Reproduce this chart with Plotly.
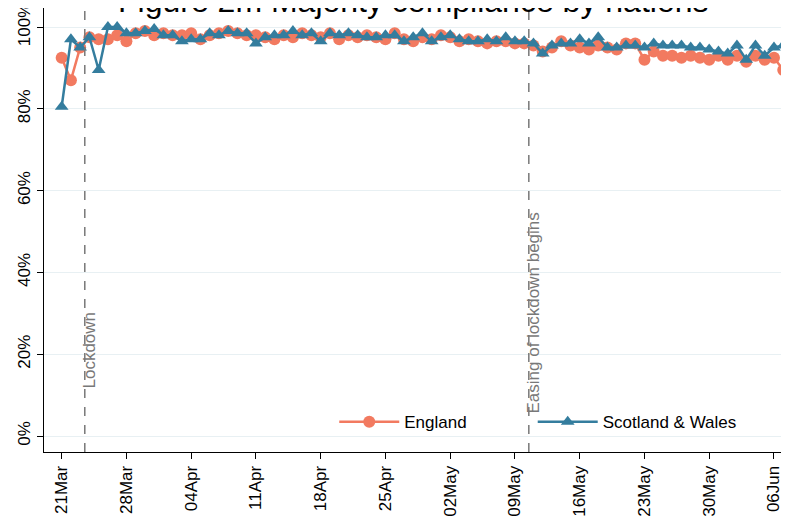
import pandas as pd
import plotly.graph_objects as go

# daily survey dates
dates = pd.date_range("2020-03-21", "2020-06-07", freq="D")

# share complying with the majority of rules (%)
england = [92.5, 87.0, 95.0, 97.5, 97.0, 97.0, 98.0, 96.5, 98.5, 99.0, 98.0,
           98.5, 98.0, 98.0, 98.5, 97.0, 98.0, 98.5, 99.0, 98.5, 98.0,
           98.0, 97.5, 97.0, 98.0, 97.5, 98.5, 98.0, 97.5, 98.5, 97.0,
           98.0, 97.5, 98.0, 97.5, 97.0, 98.5, 97.0, 96.5, 97.5, 97.0,
           98.0, 97.5, 96.5, 97.0, 96.5, 96.0, 96.5, 96.5, 96.0, 96.0,
           95.5, 94.0, 95.0, 96.5, 95.5, 95.0, 94.5, 95.5, 95.0, 94.5,
           96.0, 96.0, 92.0, 94.0, 93.0, 93.0, 92.5, 93.0, 92.5, 92.0,
           93.0, 92.0, 93.0, 91.5, 93.0, 92.0, 92.5, 89.5]
scot_wales = [80.5, 97.0, 95.0, 97.5, 89.5, 100.0, 100.0, 98.5, 98.5, 99.0, 99.5,
              98.0, 98.0, 96.5, 97.0, 97.0, 98.5, 98.0, 99.0, 98.5, 98.5,
              96.0, 97.5, 98.0, 98.0, 99.0, 98.0, 98.5, 96.5, 98.5, 98.0,
              98.5, 98.0, 97.5, 97.5, 98.0, 98.0, 96.5, 97.5, 98.5, 96.5,
              97.5, 98.0, 97.0, 96.5, 96.5, 97.0, 96.5, 97.5, 96.5, 96.5,
              96.0, 93.5, 95.5, 96.0, 96.0, 97.0, 96.0, 97.5, 95.0, 95.0,
              95.5, 95.5, 95.0, 96.0, 95.5, 95.5, 95.5, 95.0, 95.0, 94.5,
              94.0, 93.5, 95.5, 92.0, 95.5, 93.0, 95.0, 95.5]

events = ["2020-03-23 12:00", "2020-05-10 12:00"]
event_labels = ["Lockdown", "Easing of lockdown begins"]
event_label_y = [11.2, 5.1]

tick_dates = pd.date_range("2020-03-21", "2020-06-06", freq="7D")
tick_text = [d.strftime("%d%b") for d in tick_dates]
y_ticks = [0, 20, 40, 60, 80, 100]

col_eng = "rgb(242,122,96)"
col_sw = "rgb(52,125,158)"
font = "Liberation Sans, Arial, sans-serif"

fig = go.Figure()
fig.add_trace(go.Scatter(x=dates, y=england, name="England", mode="lines+markers",
                         line=dict(color=col_eng, width=2.5),
                         marker=dict(symbol="circle", size=12, color=col_eng),
                         legend="legend"))
fig.add_trace(go.Scatter(x=dates, y=scot_wales, name="Scotland & Wales", mode="lines+markers",
                         line=dict(color=col_sw, width=2.5),
                         marker=dict(symbol="triangle-up", size=12, color=col_sw),
                         legend="legend2"))

for d, lab, ly in zip(events, event_labels, event_label_y):
    fig.add_shape(type="line", x0=d, x1=d, y0=0, y1=1, xref="x", yref="paper",
                  line=dict(color="rgb(120,120,120)", width=1.5, dash="dash"))
    fig.add_annotation(x=d, y=ly, xref="x", yref="y", text=lab, textangle=-90,
                       showarrow=False, xshift=5, yanchor="bottom",
                       font=dict(family=font, size=17, color="rgb(120,120,120)"))

fig.add_annotation(x=0.495, y=1, xref="paper", yref="paper", yanchor="bottom",
                   yshift=-13, showarrow=False,
                   text="Figure 2m Majority compliance by nations",
                   font=dict(family=font, size=32, color="black"))

leg = dict(orientation="h", y=0.0265, xanchor="left", yanchor="bottom",
           bgcolor="rgba(255,255,255,0)", font=dict(size=17), itemwidth=60)

fig.update_layout(
    width=789, height=527,
    margin=dict(l=36, r=8, t=0, b=83),
    paper_bgcolor="white", plot_bgcolor="white",
    font=dict(family=font, size=17, color="black"),
    showlegend=True,
    legend=dict(leg, x=0.3896),
    legend2=dict(leg, x=0.656),
)
fig.update_xaxes(range=["2020-03-19 02:10", "2020-06-07 15:00"],
                 tickvals=tick_dates, ticktext=tick_text, tickangle=-90,
                 showgrid=False, showline=True, linecolor="black", linewidth=1,
                 ticks="outside", ticklen=6, tickcolor="black", zeroline=False,
                 automargin=False, ticklabeloverflow="allow")
fig.update_yaxes(range=[-3.9, 104.65], tickvals=y_ticks,
                 ticktext=[f"{v}%" for v in y_ticks], tickangle=-90,
                 showgrid=True, gridcolor="rgb(232,240,243)", gridwidth=1,
                 showline=True, linecolor="black", linewidth=1,
                 ticks="outside", ticklen=6, tickcolor="black", zeroline=False,
                 automargin=False, ticklabeloverflow="allow")

fig.write_html("out.html")
